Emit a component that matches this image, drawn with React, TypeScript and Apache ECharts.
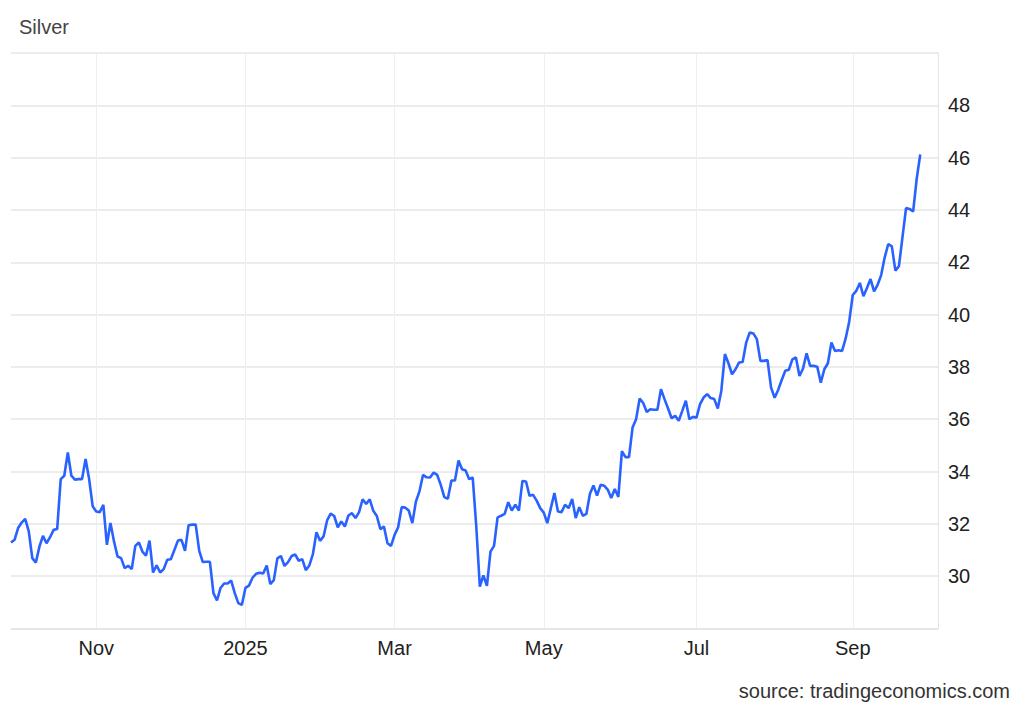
import React, { useEffect, useRef } from "react";
import * as echarts from "echarts";

// ---- data ----
const startDate = "2024-09-30";
const endDate = "2025-10-03";
const closedDays = ["2024-12-25", "2025-01-01", "2025-04-18"];
const monthNames = ["Jan", "Feb", "Mar", "Apr", "May", "Jun", "Jul", "Aug", "Sep", "Oct", "Nov", "Dec"];
const labelledMonths = [1, 3, 5, 7, 9, 11];
const yTicks = { min: 28, max: 50, step: 2 };

const silverPrices = [
  31.29, 31.39, 31.84, 32.05, 32.19, 31.71, 30.69, 30.52, 31.13, 31.54,
  31.26, 31.49, 31.77, 31.8, 33.71, 33.84, 34.73, 33.84, 33.69, 33.71,
  33.71, 34.48, 33.71, 32.67, 32.47, 32.45, 32.73, 31.2, 32.03, 31.33,
  30.75, 30.69, 30.31, 30.4, 30.27, 31.16, 31.29, 30.94, 30.78, 31.36,
  30.14, 30.41, 30.14, 30.27, 30.63, 30.65, 31.0, 31.36, 31.39, 30.97,
  31.95, 31.97, 31.97, 30.97, 30.54, 30.55, 30.55, 29.35, 29.07, 29.55,
  29.72, 29.72, 29.83, 29.35, 28.97, 28.9, 29.55, 29.64, 29.94, 30.09,
  30.13, 30.1, 30.41, 29.7, 29.85, 30.68, 30.77, 30.39, 30.54, 30.77,
  30.83, 30.59, 30.65, 30.23, 30.41, 30.84, 31.68, 31.35, 31.52, 32.13,
  32.39, 32.3, 31.87, 32.09, 31.9, 32.32, 32.41, 32.22, 32.45, 32.94,
  32.76, 32.94, 32.5, 32.3, 31.8, 31.9, 31.26, 31.16, 31.58, 31.87,
  32.64, 32.62, 32.51, 32.03, 32.85, 33.24, 33.87, 33.78, 33.77, 33.96,
  33.87, 33.49, 33.02, 32.96, 33.66, 33.66, 34.42, 34.09, 34.04, 33.71,
  33.77, 31.9, 29.6, 30.03, 29.63, 30.94, 31.16, 32.25, 32.31, 32.38,
  32.83, 32.51, 32.73, 32.51, 33.64, 33.62, 33.07, 33.11, 32.89, 32.6,
  32.43, 32.03, 32.6, 33.18, 32.47, 32.45, 32.73, 32.6, 32.95, 32.22,
  32.64, 32.31, 32.38, 33.15, 33.47, 33.08, 33.49, 33.46, 33.31, 32.99,
  33.33, 33.03, 34.78, 34.55, 34.55, 35.68, 36.0, 36.79, 36.62, 36.28,
  36.38, 36.36, 36.36, 37.15, 36.77, 36.41, 36.04, 36.13, 35.94, 36.32,
  36.71, 36.0, 36.09, 36.06, 36.58, 36.83, 36.96, 36.81, 36.77, 36.41,
  37.09, 38.49, 38.14, 37.72, 37.91, 38.17, 38.19, 38.93, 39.32, 39.28,
  39.06, 38.23, 38.23, 38.26, 37.21, 36.82, 37.12, 37.5, 37.85, 37.89,
  38.29, 38.36, 37.65, 37.94, 38.52, 38.04, 38.04, 38.01, 37.4, 37.91,
  38.14, 38.93, 38.61, 38.64, 38.61, 39.09, 39.73, 40.75, 40.91, 41.21,
  40.7, 41.02, 41.36, 40.89, 41.14, 41.51, 42.19, 42.7, 42.61, 41.68,
  41.85, 42.96, 44.07, 44.04, 43.94, 45.19, 46.12,
];

function buildTradingDays(): string[] {
  const out: string[] = [];
  const d = new Date(startDate + "T00:00:00Z");
  const end = new Date(endDate + "T00:00:00Z");
  while (d.getTime() <= end.getTime()) {
    const wd = d.getUTCDay();
    const s = d.toISOString().slice(0, 10);
    if (wd !== 0 && wd !== 6 && !closedDays.includes(s)) out.push(s);
    d.setUTCDate(d.getUTCDate() + 1);
  }
  return out;
}

const FONT = "'Liberation Sans', Arial, sans-serif";

export default function App() {
  const ref = useRef<HTMLDivElement>(null);
  useEffect(() => {
    if (!ref.current) return;
    const chart = echarts.init(ref.current, undefined, { renderer: "svg" });
    const days = buildTradingDays();
    const labelIdx = new Set<number>();
    for (let i = 1; i < days.length; i++) {
      const m = Number(days[i].slice(5, 7));
      const pm = Number(days[i - 1].slice(5, 7));
      if (m !== pm && labelledMonths.includes(m)) labelIdx.add(i);
    }
    const showIdx = (i: number) => labelIdx.has(i);
    chart.setOption({
      animation: false,
      backgroundColor: "#ffffff",
      title: {
        text: "Silver",
        left: 14,
        top: 12,
        textStyle: { fontSize: 20, fontWeight: "normal", color: "#444", fontFamily: FONT },
      },
      grid: { left: 11, right: 86, top: 53, bottom: 81.5, containLabel: false },
      xAxis: {
        type: "category",
        data: days,
        boundaryGap: false,
        axisTick: { show: false },
        axisLine: { show: true, lineStyle: { color: "#e4e4e4", width: 1.5 } },
        axisLabel: {
          interval: (i: number) => showIdx(i),
          margin: 9,
          fontSize: 20,
          color: "#222",
          fontFamily: FONT,
          formatter: (v: string) => {
            const m = Number(v.slice(5, 7));
            return m === 1 ? v.slice(0, 4) : monthNames[m - 1];
          },
        },
        splitLine: {
          show: true,
          interval: (i: number) => showIdx(i),
          lineStyle: { color: "#ebeff4", width: 1 },
        },
      },
      yAxis: {
        type: "value",
        position: "right",
        min: yTicks.min,
        max: yTicks.max,
        interval: yTicks.step,
        axisLine: { show: true, lineStyle: { color: "#e4e4e4", width: 1 } },
        axisTick: { show: false },
        axisLabel: {
          margin: 10,
          fontSize: 20,
          color: "#222",
          fontFamily: FONT,
          formatter: (v: number) => (v === yTicks.min || v === yTicks.max ? "" : String(v)),
        },
        splitLine: { show: true, lineStyle: { color: "#e6e6e6", width: 1.5 } },
      },
      series: [
        {
          type: "line",
          data: silverPrices,
          showSymbol: false,
          symbol: "none",
          lineStyle: { color: "#2962ff", width: 2.6 },
          itemStyle: { color: "#2962ff" },
        },
      ],
      graphic: [
        {
          type: "text",
          right: 14,
          top: 681,
          style: {
            text: "source: tradingeconomics.com",
            fontSize: 20,
            fill: "#333",
            fontFamily: FONT,
          },
        },
      ],
    });
    return () => chart.dispose();
  }, []);
  return (
    <div
      ref={ref}
      style={{ position: "fixed", left: 0, top: 0, width: 1024, height: 710, background: "#fff" }}
    />
  );
}
